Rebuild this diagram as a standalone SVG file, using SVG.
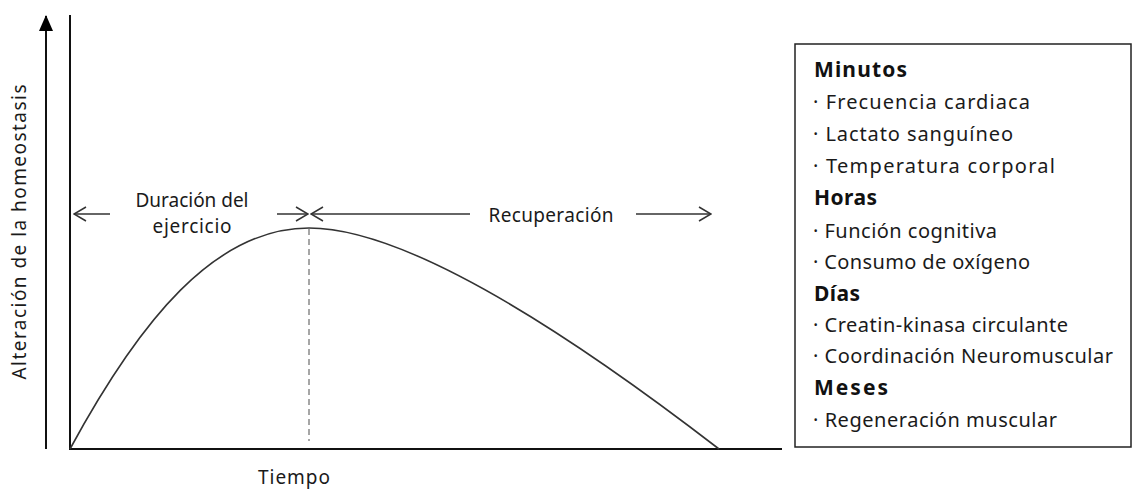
<svg xmlns="http://www.w3.org/2000/svg" width="1132" height="490" viewBox="0 0 1132 490">
  <style>
    .t { font-family: "Noto Sans", "Open Sans", sans-serif; font-size: 19px; fill: #1a1a1a; }
    .li { font-family: "Noto Sans", "Open Sans", sans-serif; font-size: 20px; fill: #1a1a1a; }
    .hd { font-family: "Noto Sans", "Open Sans", sans-serif; font-size: 21px; font-weight: bold; fill: #111; }
    .axis { stroke: #111; stroke-width: 2; fill: none; }
    .dim { stroke: #333; stroke-width: 1.5; fill: none; }
  </style>
  <defs>
    <marker id="solid" viewBox="0 0 16 16" refX="15" refY="8" markerWidth="16" markerHeight="16" markerUnits="userSpaceOnUse" orient="auto">
      <path d="M0,1 L16,8 L0,15 Z" fill="#000"/>
    </marker>
    <marker id="open" viewBox="-1 -8 14 16" refX="12" refY="0" markerWidth="14" markerHeight="16" markerUnits="userSpaceOnUse" orient="auto">
      <path d="M0,-7 L12,0 L0,7" fill="none" stroke="#333" stroke-width="1.5"/>
    </marker>
  </defs>

  <rect width="1132" height="490" fill="#fff"/>

  <!-- axes -->
  <g id="axes">
    <line class="axis" x1="46" y1="449" x2="46" y2="16" marker-end="url(#solid)"/>
    <line class="axis" x1="70" y1="15" x2="70" y2="449"/>
    <line class="axis" x1="69" y1="449" x2="782" y2="449"/>
    <text class="t" transform="translate(26,232) rotate(-90)" text-anchor="middle" textLength="295" lengthAdjust="spacing">Alteración de la homeostasis</text>
    <text class="t" x="294" y="484" text-anchor="middle" font-size="20" textLength="72" lengthAdjust="spacing">Tiempo</text>
  </g>

  <!-- homeostasis curve -->
  <g id="curve">
    <path d="M70,449 C140,320 215,228 309,228 C420,228 610,365 719,449" fill="none" stroke="#333" stroke-width="1.6"/>
    <line x1="309" y1="229" x2="309" y2="441" stroke="#777" stroke-width="1.3" stroke-dasharray="6,4"/>
  </g>

  <!-- phase spans -->
  <g id="connectors">
    <line class="dim" x1="110" y1="214" x2="74" y2="214" marker-end="url(#open)"/>
    <line class="dim" x1="277" y1="214" x2="308" y2="214" marker-end="url(#open)"/>
    <line class="dim" x1="470" y1="214" x2="311" y2="214" marker-end="url(#open)"/>
    <line class="dim" x1="636" y1="214" x2="711" y2="214" marker-end="url(#open)"/>
  </g>

  <g id="phase-exercise">
    <text class="t" x="192" y="207" text-anchor="middle" textLength="113" lengthAdjust="spacing">Duración del</text>
    <text class="t" x="192" y="233" text-anchor="middle" textLength="79" lengthAdjust="spacing">ejercicio</text>
  </g>
  <g id="phase-recovery">
    <text class="t" x="551" y="222" text-anchor="middle" textLength="125" lengthAdjust="spacing">Recuperación</text>
  </g>

  <!-- legend of recovery times -->
  <g id="legend">
    <rect x="795" y="44" width="336" height="403" fill="#fff" stroke="#222" stroke-width="1.5"/>
    <text class="hd" x="814" y="77" textLength="93" lengthAdjust="spacing">Minutos</text>
    <text class="li" x="813" y="109" textLength="217" lengthAdjust="spacing">· Frecuencia cardiaca</text>
    <text class="li" x="813" y="141" textLength="200" lengthAdjust="spacing">· Lactato sanguíneo</text>
    <text class="li" x="813" y="173" textLength="242" lengthAdjust="spacing">· Temperatura corporal</text>
    <text class="hd" x="814" y="205" textLength="63" lengthAdjust="spacing">Horas</text>
    <text class="li" x="813" y="238" textLength="184" lengthAdjust="spacing">· Función cognitiva</text>
    <text class="li" x="813" y="269" textLength="217" lengthAdjust="spacing">· Consumo de oxígeno</text>
    <text class="hd" x="814" y="301" textLength="46" lengthAdjust="spacing">Días</text>
    <text class="li" x="813" y="332" textLength="255" lengthAdjust="spacing">· Creatin-kinasa circulante</text>
    <text class="li" x="813" y="363" textLength="300" lengthAdjust="spacing">· Coordinación Neuromuscular</text>
    <text class="hd" x="814" y="395" textLength="74" lengthAdjust="spacing">Meses</text>
    <text class="li" x="813" y="427" textLength="244" lengthAdjust="spacing">· Regeneración muscular</text>
  </g>
</svg>
